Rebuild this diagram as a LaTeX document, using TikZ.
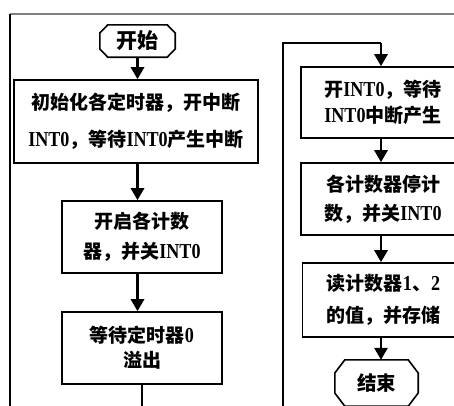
\documentclass[tikz,border=0pt]{standalone}
\usepackage{fontspec}
\setmainfont{Noto Sans CJK SC}
\newfontfamily\latfont[Scale=1.12, FakeStretch=0.85]{Liberation Serif}
\newcommand{\lt}[1]{{\latfont\bfseries #1}}
\usetikzlibrary{arrows.meta}
\begin{document}
\begin{tikzpicture}[x=1pt,y=-1pt,
  box/.style={draw, line width=1.6pt, minimum width=160pt, minimum height=72pt,
    align=center, inner sep=0pt, font=\bfseries\fontsize{19}{#1}\selectfont},
  term/.style={inner sep=0pt, font=\bfseries\fontsize{#1}{#1}\selectfont},
  arr/.style={line width=2.8pt, -{Triangle[width=13pt,length=12pt]}},
  octa/.style={line width=1.6pt, line join=miter}
]
\useasboundingbox (0,0) rectangle (454,405);
\clip (0,0) rectangle (454,405);
% frame
\draw[line width=1.5pt, gray] (10,14) -- (454,14);
\draw[line width=1.5pt] (10,14) -- (10,410);

% left column
\node[term=21, minimum width=75pt, minimum height=32pt] (start) at (137.5,41) {开始};
\draw[octa] ([yshift=8pt]start.west) -- ([xshift=8pt]start.north west) -- ([xshift=-8pt]start.north east)
  -- ([yshift=8pt]start.east) -- ([yshift=-8pt]start.east) -- ([xshift=-8pt]start.south east)
  -- ([xshift=8pt]start.south west) -- ([yshift=-8pt]start.west) -- cycle;

\node[box=37, minimum width=244pt, minimum height=83pt] (b1) at (136,121.5)
  {初始化各定时器，开中断\\\lt{INT0}，等待\lt{INT0}产生中断};
\node[box=30] (b2) at (142,237) {开启各计数\\器，并关\lt{INT0}};
\node[box=25] (b3) at (142,348) {等待定时器\lt{0}\\溢出};
\coordinate (b3out) at (142,410);

\draw[arr] (start.south) -- (b1.north -| start.south);
\draw[arr] (b1.south -| start.south) -- (b2.north -| start.south);
\draw[arr] (b2.south -| start.south) -- (b3.north -| start.south);
\draw[line width=2pt] (b3.south) -- (b3out);

% right column
\node[box=26, minimum width=164pt, minimum height=71pt] (b4) at (383,102.5) {开\lt{INT0}，等待\\\lt{INT0}中断产生};
\node[box=29, minimum width=164pt] (b5) at (383,199) {各计数器停计\\数，并关\lt{INT0}};
\node[box=32, minimum width=162pt, minimum height=74pt] (b6) at (383.5,300) {读计数器\lt{1}、\lt{2}\\的值，并存储};
\node[term=19.5, minimum width=83pt, minimum height=46pt] (end) at (376.5,383) {结束};
\draw[octa] ([yshift=10pt]end.west) -- ([xshift=10pt]end.north west) -- ([xshift=-10pt]end.north east)
  -- ([yshift=10pt]end.east) -- ([yshift=-10pt]end.east) -- ([xshift=-10pt]end.south east)
  -- ([xshift=10pt]end.south west) -- ([yshift=-10pt]end.west) -- cycle;

\coordinate (loopL) at (283,410);
\coordinate (loopT) at (283,43);
\coordinate (ax) at (381,0);
\draw[line width=2.4pt] (loopL) -- (loopT) -- (loopT -| ax);
\draw[arr] (loopT -| ax) -- (b4.north -| ax);
\draw[arr] (b4.south -| ax) -- (b5.north -| ax);
\draw[arr] (b5.south -| ax) -- (b6.north -| ax);
\draw[arr] (b6.south -| ax) -- (end.north -| ax);
\end{tikzpicture}
\end{document}
